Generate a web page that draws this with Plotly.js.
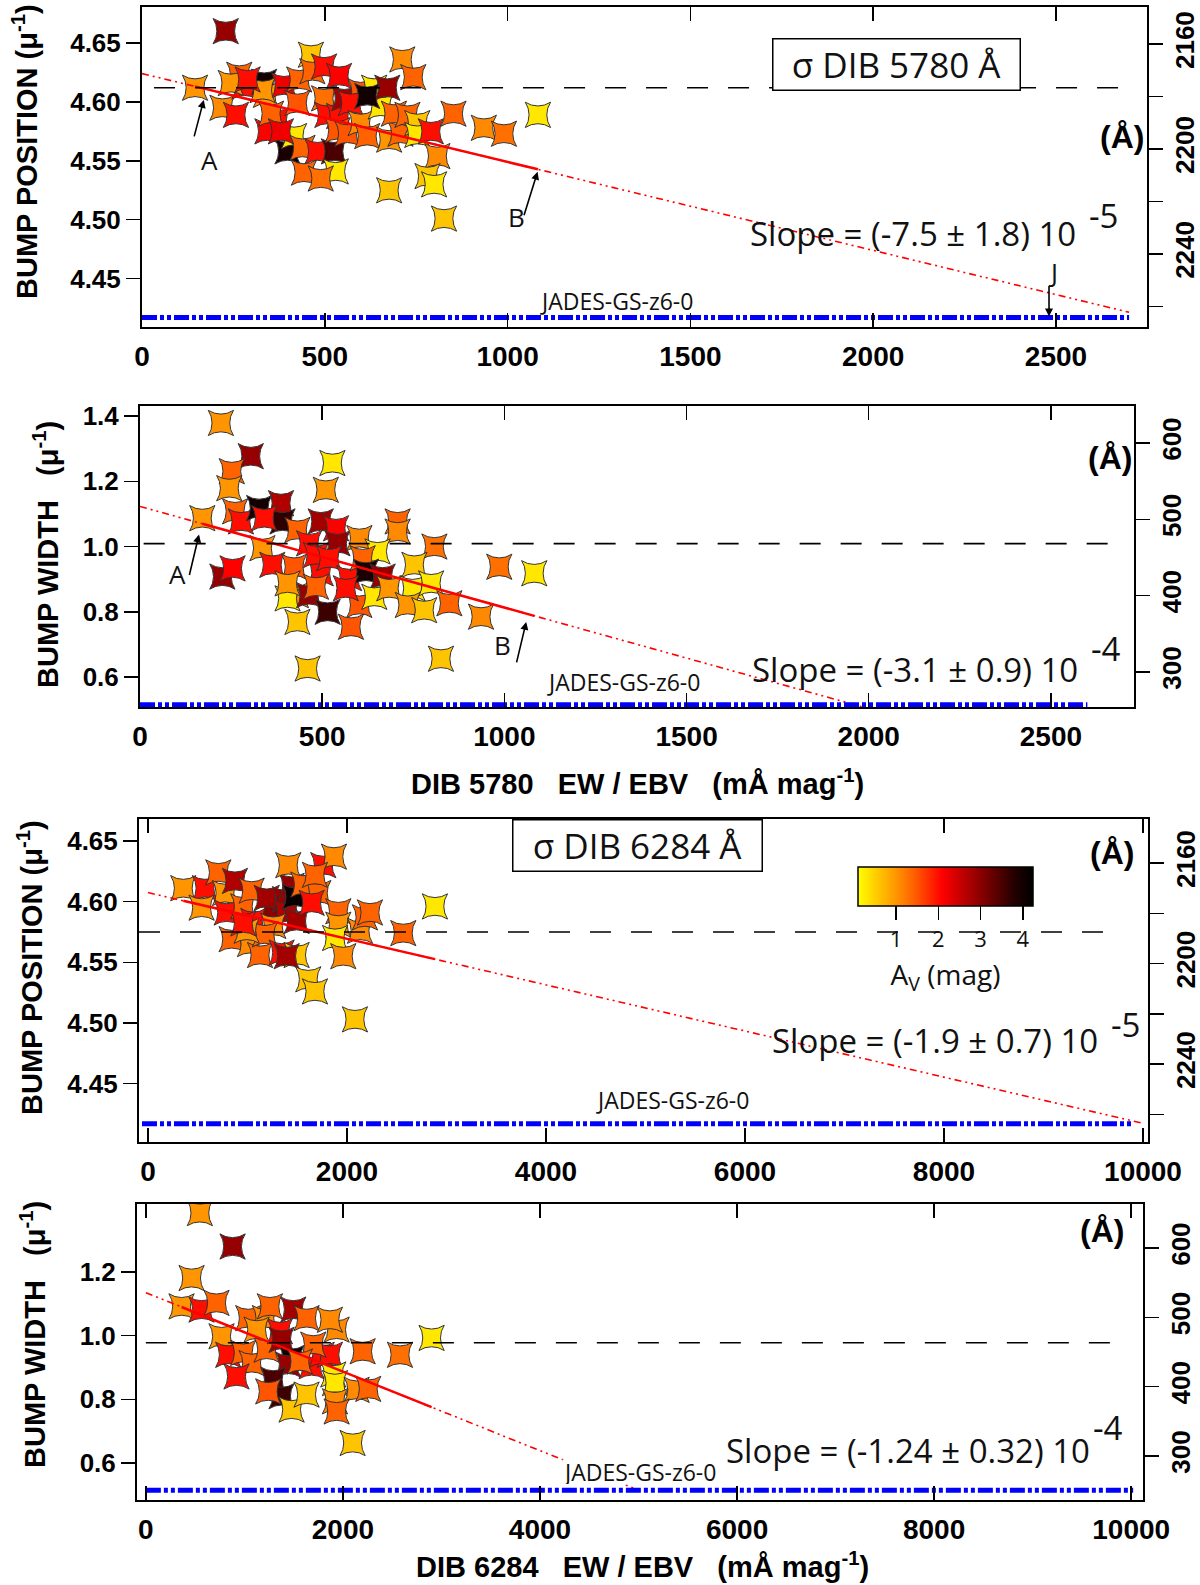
<!DOCTYPE html>
<html>
<head>
<meta charset="utf-8">
<script src="https://cdn.plot.ly/plotly-3.0.1.min.js"></script>
<style>
body{margin:0;background:#fff}
#chart{width:1200px;height:1585px}
</style>
</head>
<body>
<div id="chart"></div>
<script>

// ---- data ----
// DIB 5780: bump position (mu^-1) vs EW/EBV
var pos5780X = [229,145,220,257,266,280,243,334,339,389, 430,462,466,498,539,371,343,425,398,416,
  439,480,525,530,443,489,498,507,539,553, 535,562,598,571,598,616,635,653,671,616,
  676,707,676,712,742,689,726,753,753,790, 808,781,799,826,852,935,990,1083,353,330, 289,380];
var pos5780Y = [4.660,4.612,4.595,4.589,4.623,4.613,4.616,4.617,4.606,4.614, 4.619,4.640,4.626,4.630,4.622,4.585,4.575,4.599,4.558,4.571,
  4.561,4.558,4.558,4.541,4.540,4.535,4.603,4.589,4.588,4.603, 4.576,4.573,4.609,4.599,4.582,4.571,4.612,4.596,4.612,4.605,
  4.568,4.573,4.525,4.636,4.621,4.590,4.589,4.582,4.572,4.575, 4.554,4.537,4.530,4.501,4.590,4.578,4.573,4.589,4.590,4.610, 4.619,4.575];
var pos5780Av = [2.9,1.0,1.1,2.0,1.4,2.0,1.0,4.0,1.0,2.2, 1.4,0.6,1.4,2.0,2.1,2.0,2.1,1.5,3.9,0.3,
  1.4,2.0,3.5,0.3,1.4,1.3,1.3,2.0,2.0,2.8, 1.5,1.5,1.5,2.0,1.1,1.4,0.3,0.3,2.9,4.0,
  1.0,1.4,0.6,1.1,1.4,1.4,1.4,0.6,0.3,2.0, 1.1,0.6,0.3,0.6,1.4,1.1,1.3,0.3,1.4,1.0, 2.0,2.2];

// DIB 5780: bump width (mu^-1)
var wid5780X = [222,304,252,245,528,510,171,261,277,327, 387,391,341,336,432,496,538,464,542,602,
  707,707,808,652,226,254,363,423,496,483, 519,574,611,620,666,428,405,464,515,602,
  643,684,753,748,799,735,780,849,936,986, 1082,432,579,460,826,565,405,483];
var wid5780Y = [1.379,1.277,1.231,1.179,1.256,1.174,1.087,1.108,1.077,1.118, 1.133,1.077,1.087,0.995,1.051,1.077,1.056,1.010,1.010,1.026,
  1.077,1.046,1.000,0.985,0.908,0.933,0.944,0.938,0.918,0.974, 0.964,0.903,0.964,0.923,0.908,0.851,0.841,0.851,0.800,0.821,
  0.846,0.872,0.944,0.872,0.887,0.821,0.805,0.826,0.785,0.938, 0.918,0.769,0.754,0.626,0.656,0.872,0.887,0.877];
var wid5780Av = [1.0,2.9,1.4,1.0,0.3,1.0,1.0,1.4,2.0,4.0, 2.7,3.7,2.0,1.0,1.4,2.8,2.1,2.0,2.9,1.1,
  1.4,1.1,1.3,0.3,2.9,2.1,2.0,1.5,2.0,2.0, 2.0,2.0,1.4,3.9,2.9,1.1,0.3,2.9,3.6,1.5,
  0.3,1.0,0.6,0.3,0.3,1.0,0.6,1.4,1.1,1.3, 0.3,0.6,1.5,0.6,0.6,2.0,1.0,1.4];

// DIB 6284: bump position
var pos6284X = [355,573,539,707,774,874,791,958,1042,1059, 841,1025,1126,1260,1193,1377,1394,1444,1477,1410,
  1494,1260,1176,1343,1494,1394,1561,1712,1645,1762, 1869,1678,1913,1913,1880,1963,2131,2181,2231,2566,
  2884,1611,1678,2080,992,958];
var pos6284Y = [4.611,4.611,4.595,4.624,4.607,4.617,4.591,4.596,4.609,4.584, 4.569,4.565,4.556,4.595,4.603,4.602,4.591,4.613,4.604,4.630,
  4.584,4.580,4.573,4.558,4.556,4.555,4.614,4.607,4.599,4.630, 4.637,4.622,4.592,4.581,4.570,4.555,4.576,4.587,4.591,4.574,
  4.596,4.536,4.526,4.503,4.576,4.582];
var pos6284Av = [1.0,2.0,1.0,1.4,1.0,2.7,2.0,1.4,1.4,2.0, 1.4,1.1,1.4,3.0,2.8,2.9,2.7,2.9,4.1,1.1,
  2.8,1.1,1.4,2.0,0.6,2.8,1.4,1.4,2.0,2.0, 1.1,1.4,1.4,1.0,0.3,1.1,1.1,1.4,1.4,1.4,
  0.3,0.6,0.6,0.6,1.0,2.0];

// DIB 6284: bump width
var wid6284X = [548,880,464,362,565,717,768,836,988,1039, 1208,1259,1073,920,1225,1360,1377,1496,1631,1479,
  1445,1682,1784,1868,1699,1936,1868,1293,1377,1242, 1479,1631,1902,1919,2139,2257,1919,1936,2098,2200,
  2579,2900,1124,1563];
var wid6284Y = [1.385,1.280,1.181,1.092,1.082,1.103,0.998,0.940,0.946,1.055, 1.055,1.092,0.914,0.872,0.956,1.014,0.987,1.082,1.055,0.930,
  0.909,0.904,0.940,0.940,0.972,1.019,1.050,0.862,0.810,0.825, 0.768,0.815,0.878,0.851,0.830,0.833,0.794,0.762,0.663,0.951,
  0.940,0.993,1.019,0.919];
var wid6284Av = [1.0,2.9,1.0,1.0,2.0,1.4,1.0,2.0,1.4,1.4, 1.1,1.4,1.4,2.0,1.4,2.0,2.9,2.8,1.4,4.0,
  2.9,2.0,2.0,2.0,1.4,1.1,1.1,3.5,3.6,1.5, 0.6,0.6,0.3,0.3,1.1,1.4,1.1,1.4,0.6,1.4,
  1.3,0.3,1.0,1.4];

// reference (dashed) levels, JADES-GS-z6-0 levels, linear fits [intercept, slope, end of line]
var refLevels = [4.612, 1.009, 4.575, 0.978];
var jadesLevels = [4.417, 0.515, 4.417, 0.515];
var fitIntercepts = [4.624, 1.123, 4.6074, 1.135];
var fitSlopes = [-7.5e-5, -3.1e-4, -1.9e-5, -1.24e-4];
var fitEnds = [2700, 1990, 10000, 4950];
var slopeLabels = ['Slope = (-7.5 \u00b1 1.8) 10', 'Slope = (-3.1 \u00b1 0.9) 10',
  'Slope = (-1.9 \u00b1 0.7) 10', 'Slope = (-1.24 \u00b1 0.32) 10'];
var slopeExps = ['-5', '-4', '-5', '-4'];
var avTicks = [1, 2, 3, 4];

// ---- styling ----
var W = 1200, H = 1585;
function px(x) { return x / W; }
function py(y) { return 1 - y / H; }

var avScale = [[0,'#ffff00'],[0.12,'#ffc400'],[0.22,'#ff9400'],[0.32,'#ff6000'],
  [0.48,'#ff0000'],[0.70,'#8a0000'],[0.9,'#200000'],[1,'#000000']];
var tickFont = {family:'Liberation Sans, Arial, sans-serif', size:26, color:'#000', weight:'bold'};
var xTickFont = {family:'Liberation Sans, Arial, sans-serif', size:28, color:'#000', weight:'bold'};
var titleFont = {family:'Liberation Sans, Arial, sans-serif', size:29, color:'#000', weight:'bold'};
var noteFont = {family:'Open Sans, sans-serif', size:33, color:'#111'};

var sets = [
  {x:pos5780X, y:pos5780Y, av:pos5780Av, xa:'x', ya:'y', ya2:'y2', refX:[33,2705], jadesX:[0,2700]},
  {x:wid5780X, y:wid5780Y, av:wid5780Av, xa:'x2', ya:'y3', ya2:'y4', refX:[10,2703], jadesX:[0,2600]},
  {x:pos6284X, y:pos6284Y, av:pos6284Av, xa:'x3', ya:'y5', ya2:'y6', refX:[-90,9700], jadesX:[-60,9900]},
  {x:wid6284X, y:wid6284Y, av:wid6284Av, xa:'x4', ya:'y7', ya2:'y8', refX:[0,9920], jadesX:[0,10020]}
];

var traces = [];
for (let i = 0; i < sets.length; i++) {
  let s = sets[i];
  let marker = {symbol:'star-square', size:23, color:s.av, colorscale:avScale, cmin:0.1, cmax:4.24,
    line:{color:'#333', width:1}, showscale:false};
  if (i == 2) {
    marker.showscale = true;
    marker.colorbar = {orientation:'h', x:px(945.5), xanchor:'center', y:py(867), yanchor:'top',
      len:175, lenmode:'pixels', thickness:39, thicknessmode:'pixels', outlinewidth:1.5, outlinecolor:'#000',
      xpad:0, ypad:0, ticks:'outside', ticklen:14, tickwidth:1.5, tickcolor:'#000', tickvals:avTicks,
      tickfont:{family:'Open Sans, sans-serif', size:22, color:'#111'},
      title:{text:'A<sub>V</sub> (mag)', side:'bottom', font:{family:'Open Sans, sans-serif', size:28, color:'#111'}}};
  }
  traces.push({x:s.x, y:s.y, xaxis:s.xa, yaxis:s.ya, mode:'markers', type:'scatter', marker:marker, showlegend:false});

  // fit line: dash-dot-dot over full extent, solid over data range
  let a = fitIntercepts[i], b = fitSlopes[i];
  let xmin = Math.min.apply(null, s.x), xmax = Math.max.apply(null, s.x);
  traces.push({x:[0, fitEnds[i]], y:[a, a + b*fitEnds[i]], xaxis:s.xa, yaxis:s.ya, mode:'lines', showlegend:false,
    line:{color:'#ff0000', width:1.6, dash:'7px,4px,2px,4px,2px,4px'}});
  traces.push({x:[xmin, xmax], y:[a + b*xmin, a + b*xmax], xaxis:s.xa, yaxis:s.ya, mode:'lines', showlegend:false,
    line:{color:'#ff0000', width:2.5}});

  // reference level
  traces.push({x:s.refX, y:[refLevels[i], refLevels[i]], xaxis:s.xa, yaxis:s.ya, mode:'lines', showlegend:false,
    line:{color:'#000', width:1.6, dash:'21px,20px'}});

  // JADES-GS-z6-0
  traces.push({x:s.jadesX, y:[jadesLevels[i], jadesLevels[i]], xaxis:s.xa, yaxis:s.ya, mode:'lines', showlegend:false,
    line:{color:'#0000ff', width:5, dash:'15px,3px,4px,3px,4px,3px'}});

  // empty trace so the right-hand wavelength axis gets drawn
  traces.push({x:[], y:[], xaxis:s.xa, yaxis:s.ya2, mode:'markers', showlegend:false});
}

function xAxis(l, r, range, dtick, anchor) {
  return {domain:[px(l), px(r)], range:range, anchor:anchor, dtick:dtick, tick0:0, tickformat:'d',
    ticks:'inside', ticklen:14, tickwidth:1.5, tickcolor:'#000', showline:true, linewidth:2, linecolor:'#000',
    mirror:'ticks', showgrid:false, zeroline:false, tickfont:xTickFont, ticklabelstandoff:3};
}
function yAxis(t, b, range, vals, fmt, anchor) {
  return {domain:[py(b), py(t)], range:range, anchor:anchor, tickvals:vals, tickformat:fmt,
    ticks:'outside', ticklen:14, tickwidth:1.5, tickcolor:'#000', showline:true, linewidth:2, linecolor:'#000',
    mirror:true, showgrid:false, zeroline:false, tickfont:tickFont};
}
function rAxis(over, anchor, range, vals, text) {
  return {overlaying:over, side:'right', anchor:anchor, range:range, tickvals:vals, ticktext:text,
    ticks:'outside', ticklen:15, tickwidth:1.5, tickcolor:'#000', showline:false, showgrid:false, zeroline:false,
    tickangle:-90, tickfont:tickFont, ticklabelstandoff:0};
}

var lamVals = [2160,2180,2200,2220,2240,2260];
var lamText = ['2160','','2200','','2240',''];
var widVals = [300,400,500,600];

var annotations = [];
function note(x, y, text, font, extra) {
  let a = {xref:'paper', yref:'paper', x:px(x), y:py(y), xanchor:'center', yanchor:'middle',
    text:text, showarrow:false, font:font};
  for (let k in extra) a[k] = extra[k];
  annotations.push(a);
}
function arrow(xr, yr, x, y, ax, ay) {
  annotations.push({xref:xr, yref:yr, x:x, y:y, ax:ax, ay:ay, text:'', showarrow:true,
    arrowhead:2, arrowsize:1, arrowwidth:1.6, arrowcolor:'#000'});
}
function letter(xr, yr, x, y, t) {
  annotations.push({xref:xr, yref:yr, x:x, y:y, xanchor:'center', yanchor:'middle', text:t, showarrow:false,
    font:{family:'Open Sans, sans-serif', size:26, color:'#111'}});
}

// axis titles
note(25, 152, 'BUMP POSITION (\u03bc<sup>-1</sup>)', titleFont, {textangle:-90});
note(46, 555, 'BUMP WIDTH\u00a0\u00a0\u00a0(\u03bc<sup>-1</sup>)', titleFont, {textangle:-90});
note(30, 968, 'BUMP POSITION (\u03bc<sup>-1</sup>)', titleFont, {textangle:-90});
note(33, 1335, 'BUMP WIDTH\u00a0\u00a0\u00a0(\u03bc<sup>-1</sup>)', titleFont, {textangle:-90});
note(637, 782, 'DIB 5780\u00a0\u00a0\u00a0EW / EBV\u00a0\u00a0\u00a0(m\u00c5 mag<sup>-1</sup>)', titleFont, {});
note(642, 1565, 'DIB 6284\u00a0\u00a0\u00a0EW / EBV\u00a0\u00a0\u00a0(m\u00c5 mag<sup>-1</sup>)', titleFont, {});

// (A) unit labels for the right axes
var angFont = {family:'Liberation Sans, Arial, sans-serif', size:32, color:'#000', weight:'bold'};
note(1122, 137, '(\u00c5)', angFont, {});
note(1110, 458, '(\u00c5)', angFont, {});
note(1112, 853, '(\u00c5)', angFont, {});
note(1102, 1231, '(\u00c5)', angFont, {});

// boxed DIB labels
var boxFont = {family:'Open Sans, sans-serif', size:35, color:'#111'};
note(896, 64, '\u03c3 DIB 5780 \u00c5', boxFont, {bordercolor:'#000', borderwidth:1.5, bgcolor:'#fff', borderpad:6, width:234, height:38});
note(637, 846, '\u03c3 DIB 6284 \u00c5', boxFont, {bordercolor:'#000', borderwidth:1.5, bgcolor:'#fff', borderpad:6, width:236, height:38});

// slopes
var slopePos = [[1078,233,1104,215],[1080,669,1106,648],[1100,1040,1126,1024],[1092,1450,1108,1427]];
for (let i = 0; i < 4; i++) {
  let p = slopePos[i];
  note(p[0], p[1], slopeLabels[i], noteFont, {xanchor:'right'});
  note(p[2], p[3], slopeExps[i], noteFont, {});
}

// JADES labels (the last one masks the fit line running behind it)
var jadesFont = {family:'Open Sans, sans-serif', size:23, color:'#111'};
note(616, 301, 'JADES-GS-z6-0', jadesFont, {});
note(623, 682, 'JADES-GS-z6-0', jadesFont, {});
note(672, 1100, 'JADES-GS-z6-0', jadesFont, {});
note(639, 1472, 'JADES-GS-z6-0', jadesFont, {bgcolor:'#fff', borderpad:0, height:24});

// arrows A, B, J
arrow('x', 'y', 169, 4.6017, -10, 38);
letter('x', 'y', 184, 4.551, 'A');
arrow('x', 'y', 1082, 4.5407, -14, 45);
letter('x', 'y', 1025, 4.5026, 'B');
arrow('x', 'y', 2481, 4.418, 0, -32);
letter('x', 'y', 2492, 4.456, 'J');
arrow('x2', 'y3', 162, 1.037, -10, 42);
letter('x2', 'y3', 102, 0.917, 'A');
arrow('x2', 'y3', 1060, 0.769, -10, 42);
letter('x2', 'y3', 995, 0.698, 'B');

var layout = {
  width:W, height:H, margin:{l:0, r:0, t:0, b:0}, paper_bgcolor:'#fff', plot_bgcolor:'rgba(0,0,0,0)',
  showlegend:false, hovermode:false,
  xaxis:xAxis(142, 1147, [0, 2749], 500, 'y'),
  yaxis:yAxis(7, 327, [4.409, 4.6805], [4.45,4.5,4.55,4.6,4.65], '.2f', 'x'),
  yaxis2:rAxis('y', 'x', [2267.9, 2145.9], lamVals, lamText),
  xaxis2:xAxis(140, 1134, [0, 2728], 500, 'y3'),
  yaxis3:yAxis(406, 707, [0.508, 1.431], [0.6,0.8,1.0,1.2,1.4], '.1f', 'x2'),
  yaxis4:rAxis('y3', 'x2', [254, 648.5], widVals, null),
  xaxis3:xAxis(139, 1148, [-90, 10050], 2000, 'y5'),
  yaxis5:yAxis(819, 1142, [4.402, 4.668], [4.45,4.5,4.55,4.6,4.65], '.2f', 'x3'),
  yaxis6:rAxis('y5', 'x3', [2271, 2142.5], lamVals, lamText),
  xaxis4:xAxis(137, 1143, [-90, 10120], 2000, 'y7'),
  yaxis7:yAxis(1204, 1500, [0.484, 1.4135], [0.6,0.8,1.0,1.2], '.1f', 'x4'),
  yaxis8:rAxis('y7', 'x4', [236.5, 663.5], widVals, null),
  annotations:annotations
};

Plotly.newPlot('chart', traces, layout, {displayModeBar:false, staticPlot:true});

</script>
</body>
</html>
